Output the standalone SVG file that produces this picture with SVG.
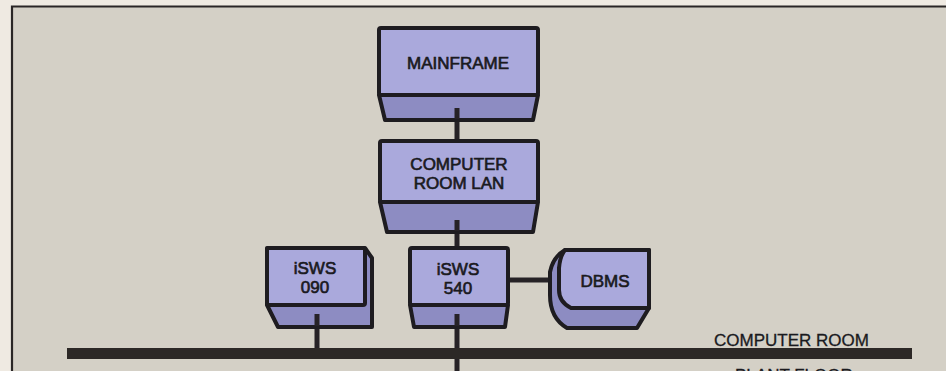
<svg xmlns="http://www.w3.org/2000/svg" width="946" height="371" viewBox="0 0 946 371">
<style>
.face{fill:#aaa9dc;stroke:#1e1c20;stroke-width:4;stroke-linejoin:round}
.base{fill:#8d8cc2;stroke:#1e1c20;stroke-width:4;stroke-linejoin:round}
.lbl{font-family:"Liberation Sans",Arial,sans-serif;font-size:17px;fill:#1a1a1e;stroke:#1a1a1e;stroke-width:0.65;text-anchor:middle}
.plain{font-family:"Liberation Sans",Arial,sans-serif;font-size:17px;fill:#1a1a1e;stroke:#1a1a1e;stroke-width:0.3}
.wire{stroke:#262226;stroke-width:5;fill:none}
</style>
<rect x="0" y="0" width="946" height="371" fill="#efeae2"/>
<rect x="12" y="7" width="934" height="364" fill="#d4d0c6"/>
<path d="M12,371 L12,6.5 L946,6.5" fill="none" stroke="#2a2626" stroke-width="2.2"/>

<g id="connectors">
<line class="wire" x1="457" y1="108" x2="457" y2="142"/>
<line class="wire" x1="457" y1="220" x2="457" y2="250"/>
<line class="wire" x1="317" y1="314" x2="317" y2="350"/>
<line class="wire" x1="457" y1="314" x2="457" y2="371"/>
<line class="wire" x1="508" y1="280" x2="556" y2="280"/>
<rect id="bus" x="67" y="348" width="845" height="11" fill="#2c2826"/>
</g>

<g id="mainframe">
<path class="base" d="M379,95 L538,95 L533,120 L385,120 Z"/>
<rect class="face" x="379" y="28" width="159" height="67" rx="2"/>
<line class="wire" x1="457" y1="108" x2="457" y2="119"/>
<text class="lbl" x="458" y="69">MAINFRAME</text>
</g>

<g id="lan">
<path class="base" d="M380,202 L538,202 L533,232 L387,232 Z"/>
<rect class="face" x="380" y="141" width="158" height="61" rx="2"/>
<line class="wire" x1="457" y1="220" x2="457" y2="231"/>
<text class="lbl" x="459" y="170">COMPUTER</text>
<text class="lbl" x="459" y="189">ROOM LAN</text>
</g>

<g id="isws090">
<path class="base" d="M267,248 L365,248 L372,258 L372,327 L278,327 L267,305 Z"/>
<rect class="face" x="267" y="248" width="98" height="57" rx="2"/>
<line class="wire" x1="317" y1="314" x2="317" y2="326"/>
<text class="lbl" x="315" y="274">iSWS</text>
<text class="lbl" x="315" y="293">090</text>
</g>

<g id="isws540">
<path class="base" d="M410,305 L508,305 L505,327 L414,327 Z"/>
<rect class="face" x="410" y="248" width="98" height="57" rx="2"/>
<line class="wire" x1="457" y1="314" x2="457" y2="326"/>
<text class="lbl" x="458" y="275">iSWS</text>
<text class="lbl" x="458" y="294">540</text>
</g>

<g id="dbms">
<path class="base" d="M565,250 L649,250 L649,308 L637,328 L567,328 Q550,318 550,295 L550,272 Q553,257 565,250 Z"/>
<path class="face" d="M565,250 L649,250 L649,308 L571,308 Q559,302 559,290 L559,268 Q560,256 565,250 Z"/>
<text class="lbl" x="605" y="287">DBMS</text>
</g>

<g id="labels">
<text class="plain" x="714" y="346">COMPUTER ROOM</text>
<text class="plain" x="735" y="381">PLANT FLOOR</text>
</g>
</svg>
